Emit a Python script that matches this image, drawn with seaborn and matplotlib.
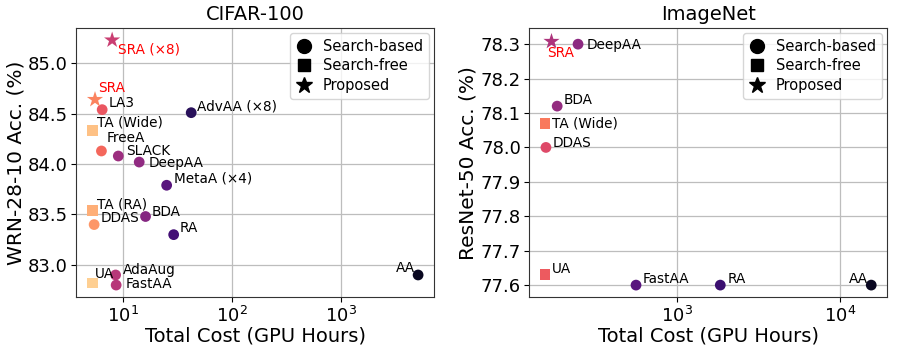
import matplotlib
matplotlib.use("Agg")
import matplotlib.pyplot as plt
from matplotlib.lines import Line2D
import seaborn as sns
import pandas as pd

# ---------------- data ----------------
cifar_methods = ["UA", "TA (Wide)", "TA (RA)", "DDAS", "SRA", "FreeA", "LA3", "SRA (×8)",
                 "AdaAug", "FastAA", "SLACK", "DeepAA", "BDA", "MetaA (×4)", "RA", "AdvAA (×8)", "AA"]
cifar_cost = [5.2, 5.2, 5.2, 5.4, 5.5, 6.3, 6.4, 7.9, 8.5, 8.6, 9.0, 14, 16, 25, 29, 42, 5080]
cifar_acc = [82.82, 84.33, 83.54, 83.40, 84.64, 84.13, 84.54, 85.23, 82.90, 82.80, 84.08, 84.02,
             83.48, 83.79, 83.30, 84.51, 82.90]
cifar_type = ["Search-free", "Search-free", "Search-free", "Search-based", "Proposed", "Search-based",
              "Search-based", "Proposed", "Search-based", "Search-based", "Search-based", "Search-based",
              "Search-based", "Search-based", "Search-based", "Search-based", "Search-based"]

imnet_methods = ["TA (Wide)", "UA", "DDAS", "SRA", "BDA", "DeepAA", "FastAA", "RA", "AA"]
imnet_cost = [155, 155, 157, 169, 184, 247, 560, 1840, 15500]
imnet_acc = [78.07, 77.63, 78.00, 78.31, 78.12, 78.30, 77.60, 77.60, 77.60]
imnet_type = ["Search-free", "Search-free", "Search-based", "Proposed", "Search-based",
              "Search-based", "Search-based", "Search-based", "Search-based"]

# ---------------- style ----------------
cmap = sns.color_palette("magma", as_cmap=True)
cifar_levels = [0.90, 0.87, 0.83, 0.78, 0.74, 0.68, 0.64, 0.55, 0.50, 0.50, 0.44, 0.41,
                0.38, 0.27, 0.22, 0.16, 0.06]
imnet_levels = [0.72, 0.65, 0.60, 0.48, 0.42, 0.40, 0.27, 0.20, 0.06]
cifar_palette = [cmap(v) for v in cifar_levels]
imnet_palette = [cmap(v) for v in imnet_levels]

markers = {"Search-based": "o", "Search-free": "s", "Proposed": "*"}
sizes = {"Search-based": 60, "Search-free": 60, "Proposed": 150}

fig = plt.figure(figsize=(8.97, 3.5), dpi=100)
ax1 = fig.add_axes([0.085, 0.151, 0.399, 0.769])
ax2 = fig.add_axes([0.590, 0.151, 0.399, 0.769])

# label offsets in points (dx, dy, ha)
cifar_off = {
    "UA": (1.5, 6.5, "left"), "TA (Wide)": (3.5, 6, "left"), "TA (RA)": (3.5, 4.5, "left"),
    "DDAS": (5, 5, "left"), "SRA": (2.5, 8, "left"), "FreeA": (4, 9.5, "left"), "LA3": (5, 4.5, "left"),
    "SRA (×8)": (4.5, -7, "left"), "AdaAug": (5, 3.5, "left"), "FastAA": (7, 0.5, "left"),
    "SLACK": (5.5, 3.5, "left"), "DeepAA": (7, -1, "left"), "BDA": (4.5, 3.5, "left"),
    "MetaA (×4)": (5, 5, "left"), "RA": (4.5, 5, "left"), "AdvAA (×8)": (4.5, 4.5, "left"),
    "AA": (-2, 5, "right"),
}
imnet_off = {
    "TA (Wide)": (5, 0, "left"), "UA": (5, 4.5, "left"), "DDAS": (4.5, 3.5, "left"),
    "SRA": (-3, -8.5, "left"), "BDA": (4.5, 4.5, "left"), "DeepAA": (6.5, -0.5, "left"),
    "FastAA": (4.5, 4.5, "left"), "RA": (5, 4.5, "left"), "AA": (-2, 4.5, "right"),
}


def draw(ax, methods, cost, acc, types, palette, offs, title, ylabel, xlim, ylim, yticks):
    df = pd.DataFrame({"method": methods, "cost": cost, "acc": acc, "type": types})
    for t in ["Search-based", "Search-free", "Proposed"]:
        sub = df[df["type"] == t]
        pal = {m: palette[methods.index(m)] for m in sub["method"]}
        sns.scatterplot(data=sub, x="cost", y="acc", hue="method", palette=pal,
                        marker=markers[t], s=sizes[t], linewidth=0, legend=False,
                        ax=ax, zorder=3)
    for m, c, a in zip(methods, cost, acc):
        dx, dy, ha = offs[m]
        col = "red" if m.startswith("SRA") else "black"
        ax.annotate(m, (c, a), xytext=(dx, dy), textcoords="offset points",
                    ha=ha, va="center", fontsize=9.8, color=col, zorder=4)
    ax.set_xscale("log")
    ax.set_xlim(*xlim)
    ax.set_ylim(*ylim)
    ax.set_yticks(yticks)
    ax.grid(True, color="#bdbdbd", linewidth=0.9, zorder=0)
    ax.set_axisbelow(True)
    ax.minorticks_off()
    ax.set_title(title, fontsize=14)
    ax.set_xlabel("Total Cost (GPU Hours)", fontsize=14, labelpad=1)
    ax.set_ylabel(ylabel, fontsize=14.5, labelpad=2)
    ax.tick_params(labelsize=13, pad=2.5)
    for sp in ax.spines.values():
        sp.set_color("#333333")
    handles = [Line2D([], [], marker="o", color="black", linestyle="", markersize=10),
               Line2D([], [], marker="s", color="black", linestyle="", markersize=9),
               Line2D([], [], marker="*", color="black", linestyle="", markersize=12)]
    ax.legend(handles, ["Search-based", "Search-free", "Proposed"], loc="upper right",
              fontsize=10.5, handletextpad=0.75, handlelength=1.1, borderpad=0.4,
              labelspacing=0.3, borderaxespad=0.35)


draw(ax1, cifar_methods, cifar_cost, cifar_acc, cifar_type, cifar_palette, cifar_off,
     "CIFAR-100", "WRN-28-10 Acc. (%)", (3.7, 7130), (82.68, 85.35),
     [83.0, 83.5, 84.0, 84.5, 85.0])
draw(ax2, imnet_methods, imnet_cost, imnet_acc, imnet_type, imnet_palette, imnet_off,
     "ImageNet", "ResNet-50 Acc. (%)", (124, 19400), (77.565, 78.347),
     [77.6, 77.7, 77.8, 77.9, 78.0, 78.1, 78.2, 78.3])

fig.savefig("out.png", dpi=100)
